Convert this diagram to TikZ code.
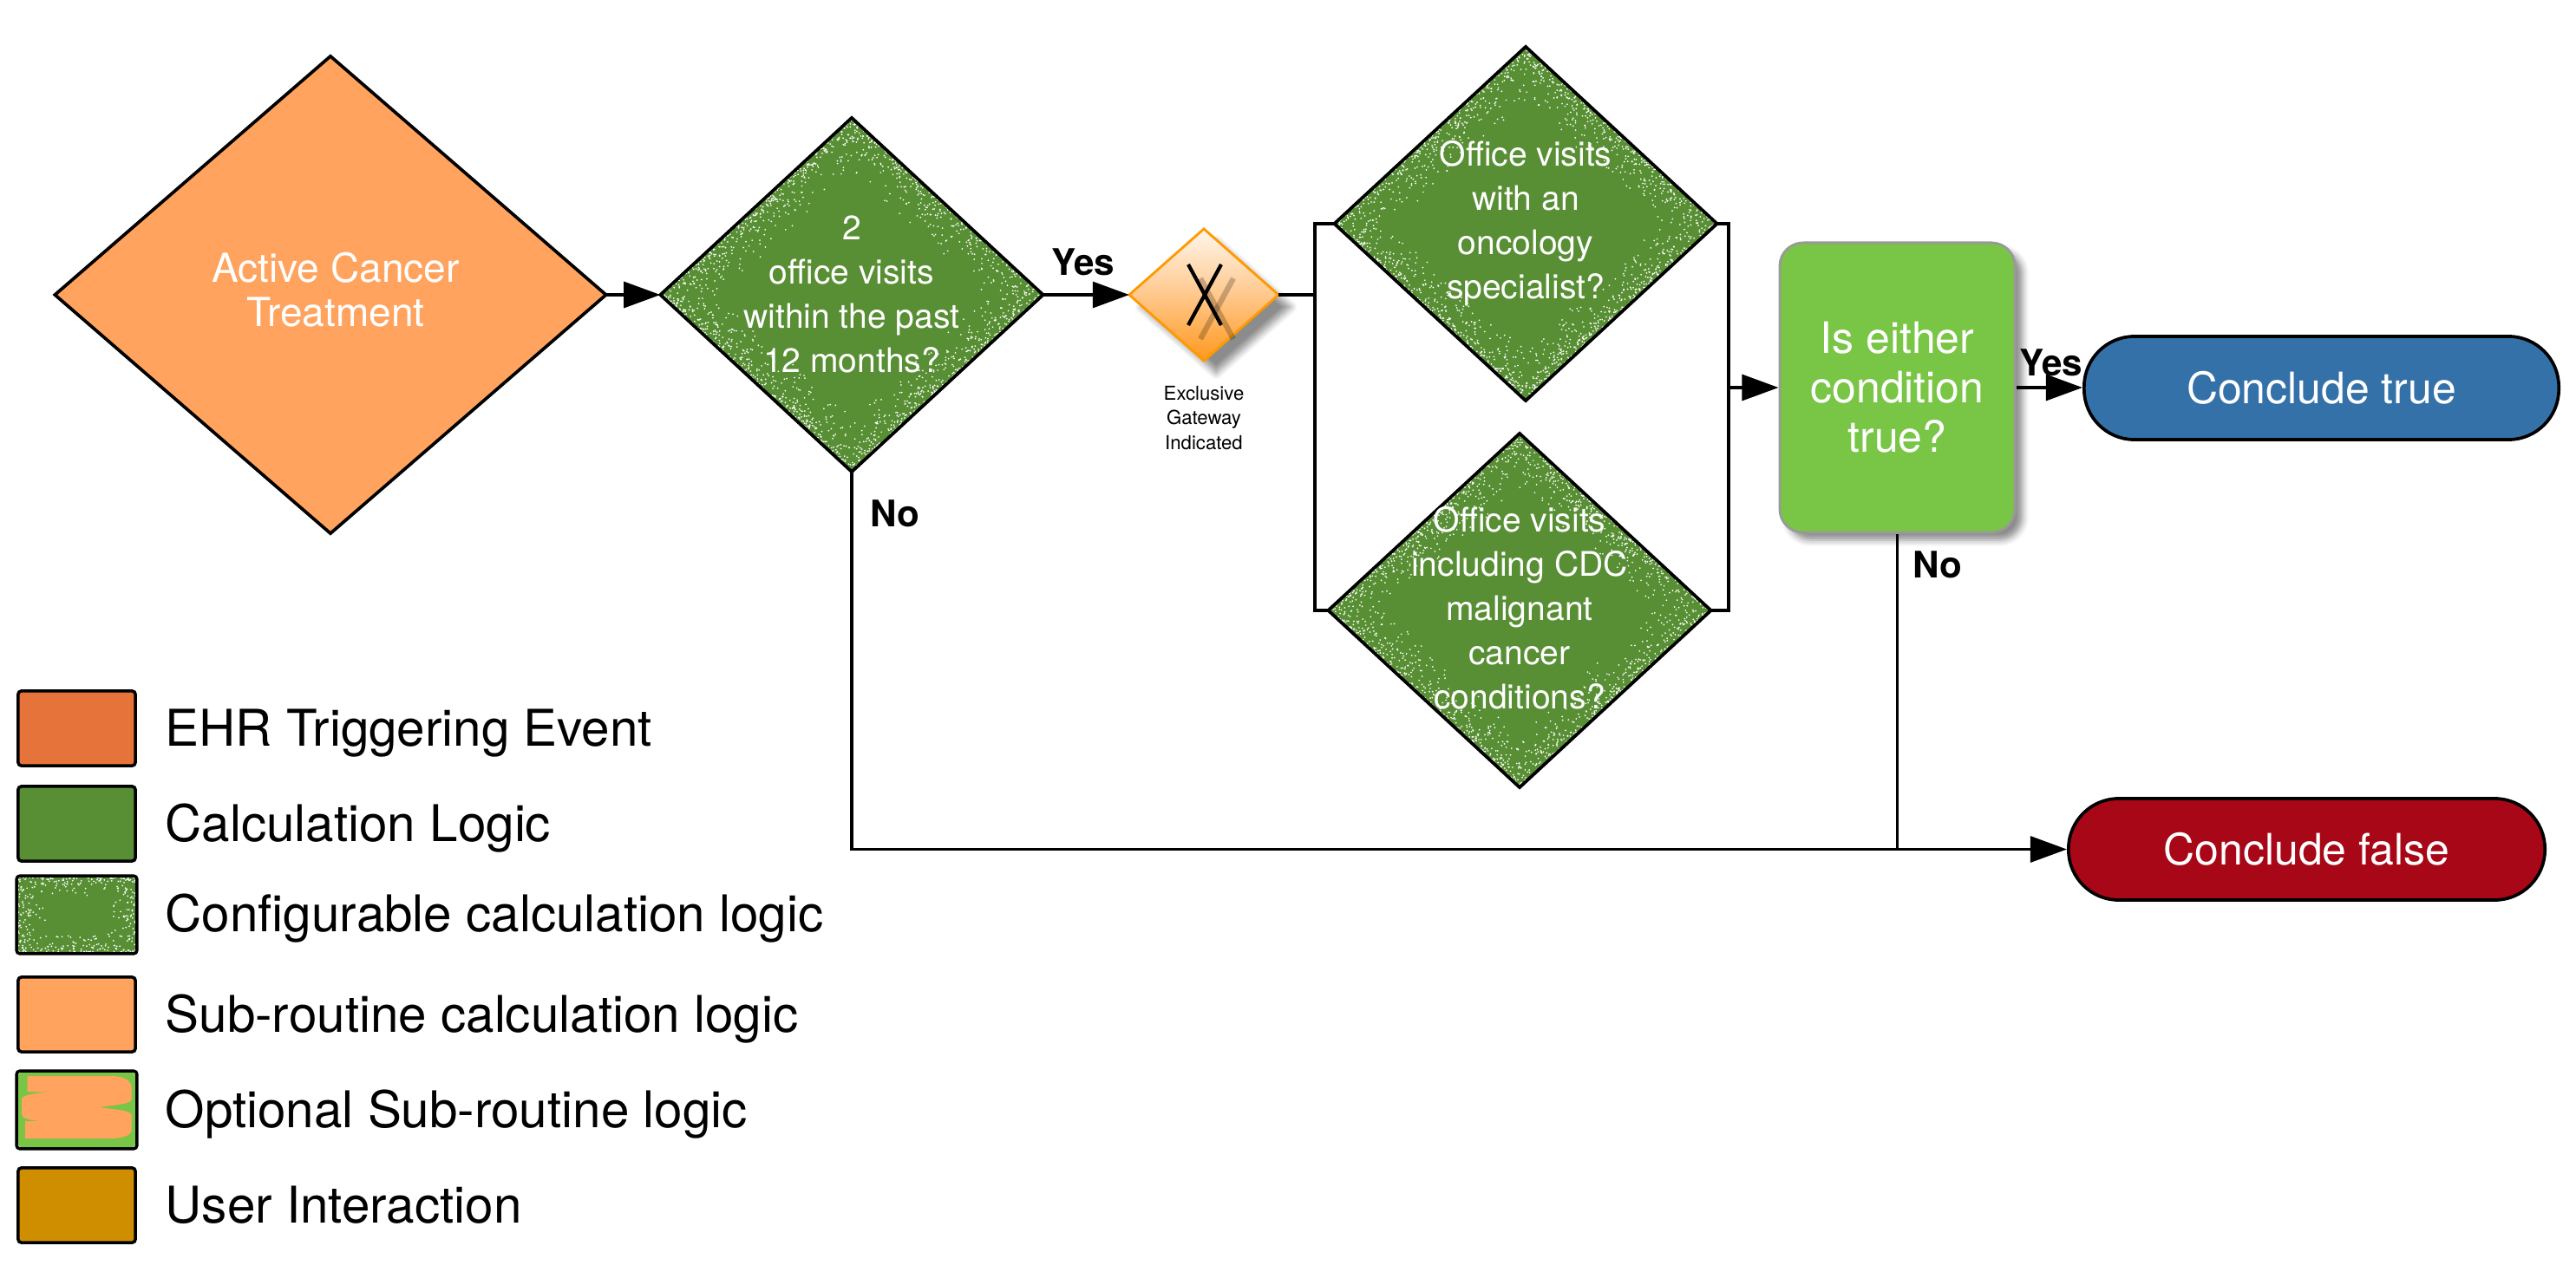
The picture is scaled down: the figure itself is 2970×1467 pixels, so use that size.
\documentclass[tikz,border=0pt]{standalone}
\usepackage{fontspec}
\setmainfont{TeX Gyre Heros}
\usetikzlibrary{shapes.geometric,arrows.meta,shadows.blur}

\definecolor{calcg}{RGB}{88,143,52}
\definecolor{subor}{RGB}{255,163,94}
\definecolor{ehr}{RGB}{229,115,58}
\definecolor{usr}{RGB}{206,142,0}
\definecolor{limeg}{RGB}{121,197,69}
\definecolor{ctblue}{RGB}{52,113,168}
\definecolor{cfred}{RGB}{167,7,23}
\definecolor{gwor}{RGB}{255,153,0}
\definecolor{gwtop}{RGB}{255,246,236}
\definecolor{gwmid}{RGB}{255,200,140}
\definecolor{gwbot}{RGB}{255,152,30}

\newcommand\speckdia[5]{%
  \begin{scope}
    \clip (#1-#3,#2) -- (#1,#2-#4) -- (#1+#3,#2) -- (#1,#2+#4) -- cycle;
    \pgfmathsetseed{#5}%
    \foreach \i in {1,...,1700}{%
      \pgfmathsetmacro\uu{2*rnd-1}%
      \pgfmathsetmacro\sg{rnd<0.5 ? -1 : 1}%
      \pgfmathsetmacro\ff{1-0.32*rnd*rnd}%
      \fill[white] ({#1+\ff*\uu*#3},{#2+\ff*\sg*(1-abs(\uu))*#4}) circle (0.28pt);
    }%
  \end{scope}}

\newcommand\speckrect[5]{%
  \begin{scope}
    \clip (#1-#3,#2-#4) rectangle (#1+#3,#2+#4);
    \pgfmathsetseed{#5}%
    \foreach \i in {1,...,380}{%
      \pgfmathsetmacro\uu{2*rnd-1}%
      \pgfmathsetmacro\sg{rnd<0.5 ? -1 : 1}%
      \pgfmathsetmacro\sd{rnd<0.6 ? 1 : 0}%
      \pgfmathsetmacro\ff{1-0.5*rnd*rnd}%
      \pgfmathsetmacro\px{\sd==1 ? \uu*#3 : \sg*#3}%
      \pgfmathsetmacro\py{\sd==1 ? \sg*#4 : \uu*#4}%
      \fill[white] ({#1+\ff*\px},{#2+\ff*\py}) circle (0.28pt);
    }%
  \end{scope}}

\begin{document}
\begin{tikzpicture}[x=0.01cm,y=-0.01cm,
  conn/.style={line width=1.05pt},
  arr/.style={conn,-{Triangle[length=12pt,width=8.5pt]}},
  dia/.style={shape=diamond, inner sep=0pt, outer sep=0pt},
  cfgdia/.style={dia, fill=calcg, minimum width=4.41cm, minimum height=4.08cm},
  dborder/.style={line width=1.05pt, line join=miter},
  dtxt/.style={text=white, align=center, inner sep=0pt, font=\fontsize{11.1pt}{14.5pt}\selectfont},
  lbl/.style={anchor=base west, inner sep=0pt, font=\fontsize{12pt}{14pt}\selectfont\bfseries},
  legbox/.style={draw=black, line width=1pt, rounded corners=1pt, minimum width=1.35cm, minimum height=0.86cm, inner sep=0pt},
  legtxt/.style={anchor=base west, inner sep=0pt, font=\fontsize{16.6pt}{20pt}\selectfont},
  pill/.style={draw=black, line width=1.05pt, rounded corners=0.58cm, text=white, inner sep=0pt, font=\fontsize{14.2pt}{16pt}\selectfont}
]
\useasboundingbox (0,0) rectangle (2970,1467);

% Active cancer treatment
\node[dia, fill=subor, draw=black, line width=1.05pt, minimum width=6.35cm, minimum height=5.5cm] (act) at (381,340) {};
\node[dtxt, font=\fontsize{13.1pt}{14.5pt}\selectfont] (actt) at (387,334) {Active Cancer\\Treatment};

% decision 1
\node[cfgdia] (d1) at (982,340) {};
\speckdia{982}{340}{220.5}{204}{11}
\draw[dborder] (d1.west) -- (d1.north) -- (d1.east) -- (d1.south) -- cycle;
\node[dtxt] (d1t) at (982,339) {2\\office visits\\within the past\\12 months?};

% gateway
\node[dia, draw=gwor, line width=0.8pt, top color=gwtop, bottom color=gwbot, middle color=gwmid,
  minimum width=1.72cm, minimum height=1.52cm,
  blur shadow={shadow xshift=4pt, shadow yshift=-4pt, shadow opacity=45, shadow blur steps=8}] (gw) at (1388,340) {};
\draw[line width=1.8pt, black, opacity=0.22] ([shift={(-4,-19)}]gw.center) -- ([shift={(34,51)}]gw.center);
\draw[line width=1.8pt, black, opacity=0.22] ([shift={(34,-19)}]gw.center) -- ([shift={(-4,51)}]gw.center);
\draw[line width=1.2pt] ([shift={(-18,-35)}]gw.center) -- ([shift={(20,35)}]gw.center);
\draw[line width=1.2pt] ([shift={(20,-35)}]gw.center) -- ([shift={(-18,35)}]gw.center);
\node[align=center, inner sep=0pt, font=\fontsize{6.3pt}{8.1pt}\selectfont] (gwt) at (1388,482) {Exclusive\\Gateway\\Indicated};

% decision 2 top
\node[cfgdia] (d2t) at (1759,258) {};
\speckdia{1759}{258}{220.5}{204}{23}
\draw[dborder] (d2t.west) -- (d2t.north) -- (d2t.east) -- (d2t.south) -- cycle;
\node[dtxt] (d2tt) at (1759,258) {Office visits\\with an\\oncology\\specialist?};

% decision 2 bottom
\node[cfgdia] (d2b) at (1752,704) {};
\speckdia{1752}{704}{220.5}{204.5}{37}
\draw[dborder] (d2b.west) -- (d2b.north) -- (d2b.east) -- (d2b.south) -- cycle;
\node[dtxt] (d2bt) at (1752,701) {Office visits\\including CDC\\malignant\\cancer\\conditions?};

% combine box
\node[rounded corners=0.27cm, fill=limeg, draw=black!40, line width=0.8pt, minimum width=2.71cm, minimum height=3.34cm,
  inner sep=0pt, text=white, align=center, font=\fontsize{14.2pt}{16.2pt}\selectfont,
  blur shadow={shadow xshift=2.5pt, shadow yshift=-2.5pt, shadow opacity=45}] (box) at (2187.5,447) {Is either\\condition\\true?};

% terminals
\node[pill, fill=ctblue, minimum width=5.47cm, minimum height=1.19cm] (ctrue) at (2676.5,447.5) {Conclude true};
\node[pill, fill=cfred, minimum width=5.49cm, minimum height=1.17cm] (cfalse) at (2659.5,979.5) {Conclude false};

% connectors
\coordinate (brL) at (1516,340);
\coordinate (brR) at (1993,447);
\draw[arr] (act.east) -- (d1.west);
\draw[arr] (d1.east) -- (gw.west);
\draw[conn] (gw.east) -- (brL);
\draw[conn] (d2t.west) -| (brL) |- (d2b.west);
\draw[conn] (d2t.east) -| (brR) |- (d2b.east);
\draw[arr] (brR) -- (brR -| box.west);
\draw[arr] (box.east) -- (box.east -| ctrue.west);
\draw[arr] (d1.south) |- (cfalse.west);
\draw[conn] (box.south) -- (box.south |- cfalse.west);

% labels
\node[lbl] (yes1) at (1212,318) {Yes};
\node[lbl] (yes2) at (2328,433) {Yes};
\node[lbl] (no1) at (1003,607) {No};
\node[lbl] (no2) at (2205,666) {No};

% legend
\node[legbox, fill=ehr] (lg1) at (88.5,840) {};
\node[legtxt] (lt1) at (190,860) {EHR Triggering Event};
\node[legbox, fill=calcg] (lg2) at (88.5,950) {};
\node[legtxt] (lt2) at (190,970) {Calculation Logic};
\node[legbox, fill=calcg, draw=none] (lg3) at (88.5,1055) {};
\speckrect{88.5}{1055}{67.5}{43}{5}
\draw[line width=1pt, rounded corners=1pt] (lg3.north west) rectangle (lg3.south east);
\node[legtxt] (lt3) at (190,1074) {Configurable calculation logic};
\node[legbox, fill=subor] (lg4) at (88.5,1170) {};
\node[legtxt] (lt4) at (190,1190) {Sub-routine calculation logic};
\node[legbox, fill=limeg, draw=none] (lg5) at (88.5,1280) {};
\fill[subor] (31.7,1241) -- (126.7,1241) .. controls (145,1241) and (151.7,1247) .. (151.7,1255) -- (151.7,1268)
  .. controls (151.7,1274) and (125,1275) .. (115,1277) .. controls (125,1279) and (151.7,1280) .. (151.7,1286)
  -- (151.7,1303) .. controls (151.7,1310) and (140,1313) .. (128,1313) -- (29,1313) -- (29,1293) -- (46.7,1293)
  .. controls (35,1292) and (25,1290) .. (25,1285) -- (25,1268) .. controls (25,1262) and (45,1260) .. (58,1260)
  -- (31.7,1259) -- cycle;
\draw[line width=1pt, rounded corners=1pt] (lg5.north west) rectangle (lg5.south east);
\node[legtxt] (lt5) at (190,1300) {Optional Sub-routine logic};
\node[legbox, fill=usr] (lg6) at (88.5,1390) {};
\node[legtxt] (lt6) at (190,1410) {User Interaction};
\end{tikzpicture}
\end{document}
